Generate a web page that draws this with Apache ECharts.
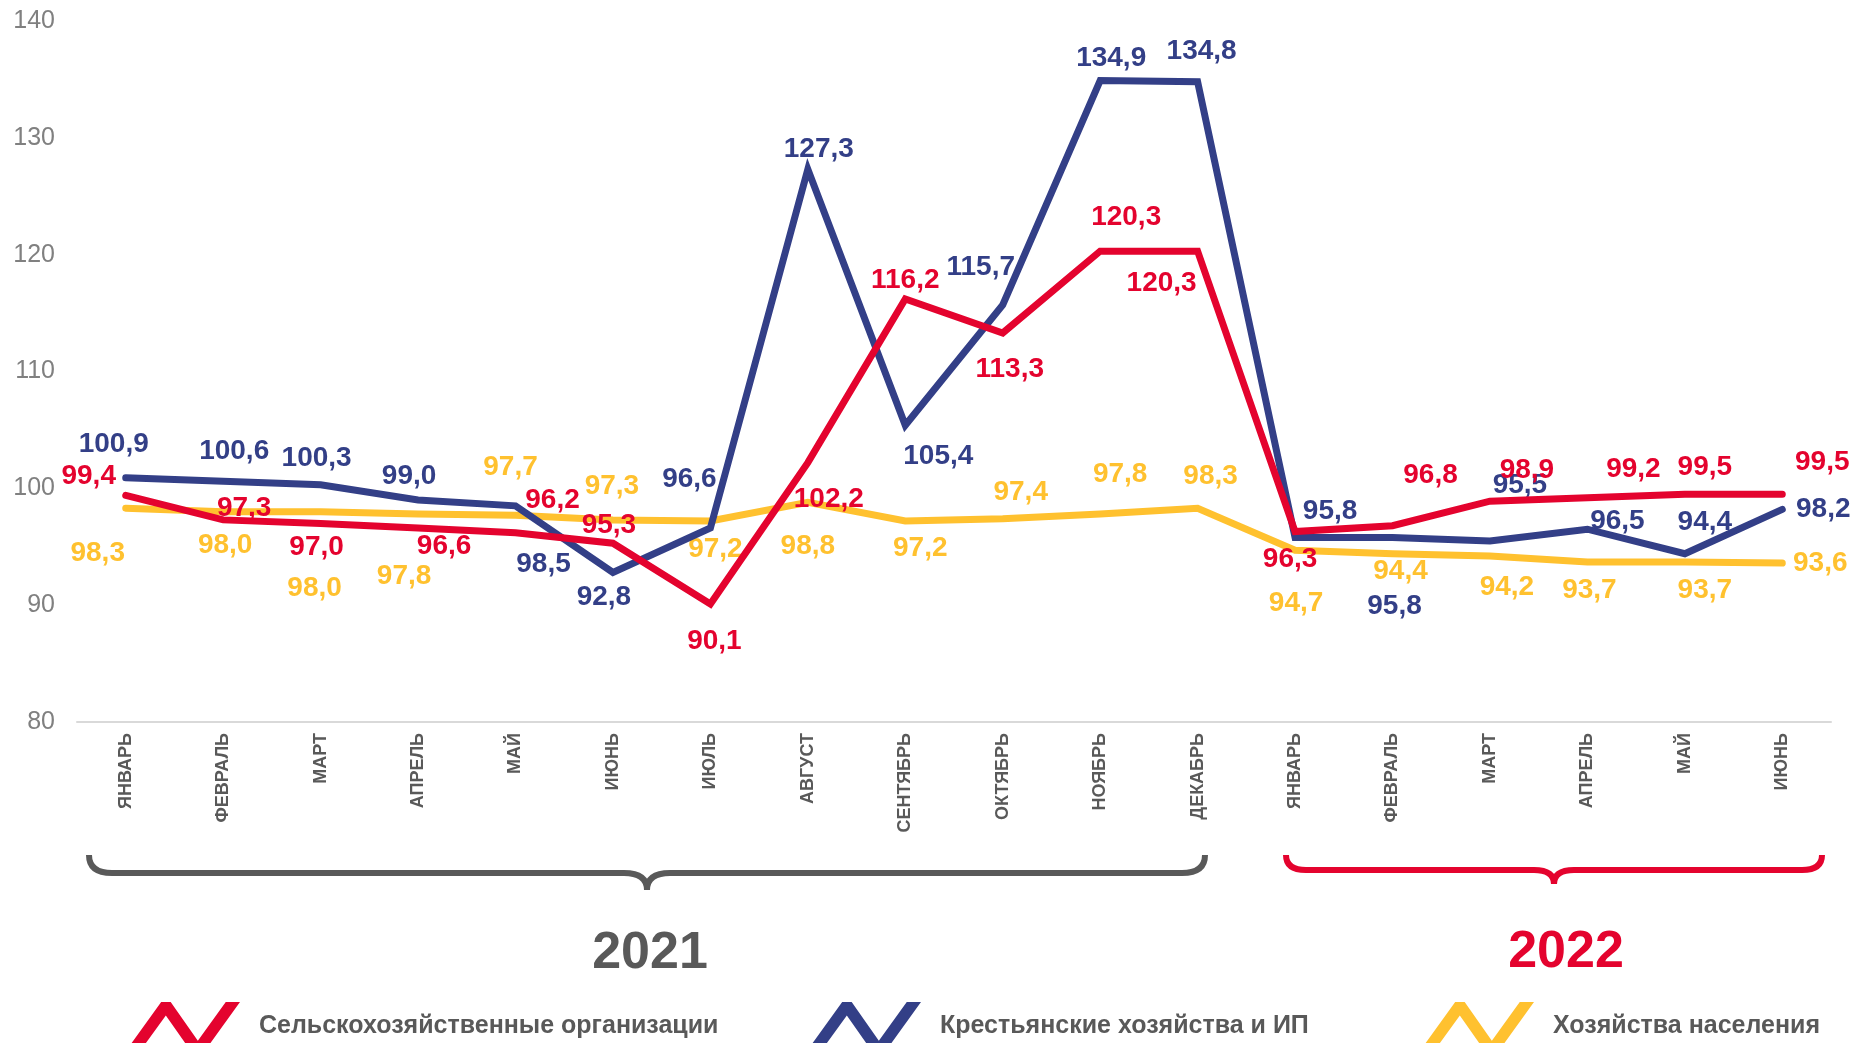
<!DOCTYPE html>
<html>
<head>
<meta charset="utf-8">
<script src="https://cdn.jsdelivr.net/npm/echarts@6/dist/echarts.min.js"></script>
<style>
  html, body { margin: 0; padding: 0; background: #fff; }
  #chart { width: 1857px; height: 1043px; }
</style>
</head>
<body>
<div id="chart"></div>
<script>
const months = ['ЯНВАРЬ', 'ФЕВРАЛЬ', 'МАРТ', 'АПРЕЛЬ', 'МАЙ', 'ИЮНЬ', 'ИЮЛЬ', 'АВГУСТ', 'СЕНТЯБРЬ', 'ОКТЯБРЬ', 'НОЯБРЬ', 'ДЕКАБРЬ',
  'ЯНВАРЬ', 'ФЕВРАЛЬ', 'МАРТ', 'АПРЕЛЬ', 'МАЙ', 'ИЮНЬ'];

const agroOrgs = [99.4, 97.3, 97.0, 96.6, 96.2, 95.3, 90.1, 102.2, 116.2, 113.3, 120.3, 120.3, 96.3, 96.8, 98.9, 99.2, 99.5, 99.5];
const farms = [100.9, 100.6, 100.3, 99.0, 98.5, 92.8, 96.6, 127.3, 105.4, 115.7, 134.9, 134.8, 95.8, 95.8, 95.5, 96.5, 94.4, 98.2];
const households = [98.3, 98.0, 98.0, 97.8, 97.7, 97.3, 97.2, 98.8, 97.2, 97.4, 97.8, 98.3, 94.7, 94.4, 94.2, 93.7, 93.7, 93.6];

const seriesNames = ['Сельскохозяйственные организации', 'Крестьянские хозяйства и ИП', 'Хозяйства населения'];
const yearLabels = ['2021', '2022'];

// label offsets (px) from each point, as placed in the original
const redOffsets = [[-37, -19], [21, -12], [-4, 24], [26, 18], [37, -32], [-4, -18], [4, 37], [21, 37], [0, -19], [7, 36],
  [26, -34], [-36, 32], [-5, 28], [38, -50], [37, -31], [46, -28], [20, -27], [40, -32]];
const blueOffsets = [[-12, -34], [11, -30], [-4, -27], [-9, -24], [28, 58], [-9, 25], [-21, -49], [11, -20], [33, 31], [-22, -38],
  [11, -22], [4, -30], [35, -26], [2, 69], [30, -56], [30, -8], [20, -31], [41, 0]];
const yellowOffsets = [[-28, 45], [2, 34], [-6, 77], [-14, 62], [-5, -48], [-1, -34], [5, 28], [0, 44], [15, 27], [18, -26],
  [20, -40], [13, -32], [1, 53], [8, 18], [17, 31], [2, 28], [20, 28], [38, 0]];

const RED = '#E4032E';
const BLUE = '#333F87';
const YELLOW = '#FFC12F';
const GREY = '#595959';

const zigzag = 'path://M0,50 L36,0 L46,0 L74.6,40.8 L104,0 L119,0 L83,50 L66,50 L40.9,14.1 L15,50 Z';

const chart = echarts.init(document.getElementById('chart'));

const fmt = (p) => p.value.toFixed(1).replace('.', ',');

function makeSeries(name, values, offsets, color, z) {
  return {
    name: name,
    type: 'line',
    z: z,
    data: values.map((v, i) => ({ value: v, label: { offset: offsets[i] } })),
    symbol: 'circle',
    symbolSize: 1,
    itemStyle: { color: color },
    lineStyle: { color: color, width: 7, join: 'miter', cap: 'round' },
    label: {
      show: true,
      position: 'inside',
      formatter: fmt,
      color: color,
      fontFamily: 'Liberation Sans, Arial, sans-serif',
      fontWeight: 'bold',
      fontSize: 28
    }
  };
}

function makeLegend(name, left) {
  return {
    data: [name],
    left: left,
    top: 1002,
    padding: 0,
    icon: zigzag,
    itemWidth: 113,
    itemHeight: 48,
    selectedMode: false,
    textStyle: {
      color: GREY,
      fontFamily: 'Liberation Sans, Arial, sans-serif',
      fontWeight: 'bold',
      fontSize: 25,
      padding: [0, 0, 0, 14]
    }
  };
}

// curly brace under a group of months, built from curves and lines
function brace(x0, x1, yTop, yLine, yTip, r, color) {
  const mid = (x0 + x1) / 2;
  const st = { stroke: color, lineWidth: 6, fill: null };
  const els = [
    { type: 'bezierCurve', shape: { x1: x0, y1: yTop, cpx1: x0, cpy1: yLine, x2: x0 + r, y2: yLine } },
    { type: 'line', shape: { x1: x0 + r, y1: yLine, x2: mid - r, y2: yLine } },
    { type: 'bezierCurve', shape: { x1: mid - r, y1: yLine, cpx1: mid, cpy1: yLine, x2: mid, y2: yTip } },
    { type: 'bezierCurve', shape: { x1: mid, y1: yTip, cpx1: mid, cpy1: yLine, x2: mid + r, y2: yLine } },
    { type: 'line', shape: { x1: mid + r, y1: yLine, x2: x1 - r, y2: yLine } },
    { type: 'bezierCurve', shape: { x1: x1 - r, y1: yLine, cpx1: x1, cpy1: yLine, x2: x1, y2: yTop } }
  ];
  els.forEach((e) => { e.style = st; });
  return els;
}

const option = {
  animation: false,
  backgroundColor: '#fff',
  grid: { left: 77, right: 26, top: 21, bottom: 321, containLabel: false },
  legend: [
    makeLegend(seriesNames[0], 127),
    makeLegend(seriesNames[1], 808),
    makeLegend(seriesNames[2], 1421)
  ],
  xAxis: {
    type: 'category',
    data: months,
    boundaryGap: true,
    axisLine: { show: true, lineStyle: { color: '#D9D9D9', width: 2 } },
    axisTick: { show: false },
    axisLabel: {
      rotate: 90,
      interval: 0,
      margin: 11,
      color: GREY,
      fontFamily: 'Liberation Sans, Arial, sans-serif',
      fontWeight: 'bold',
      fontSize: 18
    }
  },
  yAxis: {
    type: 'value',
    min: 80,
    max: 140,
    interval: 10,
    axisLine: { show: false },
    axisTick: { show: false },
    splitLine: { show: false },
    axisLabel: {
      margin: 22,
      color: '#808080',
      fontFamily: 'Liberation Sans, Arial, sans-serif',
      fontSize: 25
    }
  },
  series: [
    makeSeries(seriesNames[2], households, yellowOffsets, YELLOW, 2),
    makeSeries(seriesNames[1], farms, blueOffsets, BLUE, 3),
    makeSeries(seriesNames[0], agroOrgs, redOffsets, RED, 4)
  ],
  graphic: [
    ...brace(89, 1205, 855, 873, 890, 23, GREY),
    ...brace(1286, 1822, 855, 870, 884, 20, RED),
    {
      type: 'text',
      x: 650, y: 954,
      style: {
        text: yearLabels[0], fill: GREY, align: 'center', verticalAlign: 'middle',
        font: 'bold 52px "Liberation Sans", Arial, sans-serif'
      }
    },
    {
      type: 'text',
      x: 1566, y: 953,
      style: {
        text: yearLabels[1], fill: RED, align: 'center', verticalAlign: 'middle',
        font: 'bold 52px "Liberation Sans", Arial, sans-serif'
      }
    }
  ]
};

chart.setOption(option);

window.addEventListener('resize', () => chart.resize());
</script>
</body>
</html>
